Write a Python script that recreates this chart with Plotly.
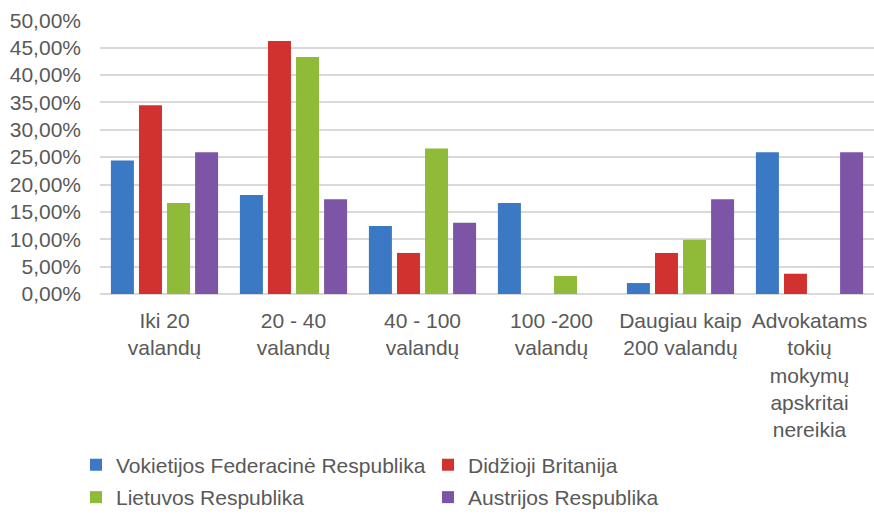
import plotly.graph_objects as go

categories = ["Iki 20<br>valandų", "20 - 40<br>valandų", "40 - 100<br>valandų",
              "100 -200<br>valandų", "Daugiau kaip<br>200 valandų",
              "Advokatams<br>tokių<br>mokymų<br>apskritai<br>nereikia"]
series_names = ["Vokietijos Federacinė Respublika", "Didžioji Britanija",
                "Lietuvos Respublika", "Austrijos Respublika"]
vokietija = [24.4, 18.1, 12.4, 16.6, 2.0, 25.9]
britanija = [34.5, 46.2, 7.5, 0.0, 7.5, 3.7]
lietuva = [16.6, 43.3, 26.6, 3.3, 9.9, 0.0]
austrija = [25.9, 17.3, 13.0, 0.0, 17.3, 25.9]
tick_vals = [0, 5, 10, 15, 20, 25, 30, 35, 40, 45, 50]
tick_text = ["0,00%", "5,00%", "10,00%", "15,00%", "20,00%", "25,00%",
             "30,00%", "35,00%", "40,00%", "45,00%", "50,00%"]

colors = ["#3C79C4", "#D2322F", "#90BB38", "#7D55A7"]
legend_ids = ["legend", "legend2", "legend3", "legend4"]
legend_pos = [(-0.031, 0.097), (0.4238, 0.097), (-0.031, 0.034), (0.4238, 0.034)]

fig = go.Figure()
for name, vals, c, lg in zip(series_names, [vokietija, britanija, lietuva, austrija],
                             colors, legend_ids):
    fig.add_trace(go.Bar(x=categories, y=vals, name=name, legend=lg,
                         marker=dict(color=c, line=dict(width=0))))

font = "Liberation Sans, Arial, sans-serif"
legend_common = dict(orientation="h", xanchor="left", yanchor="middle",
                     yref="container",
                     font=dict(family=font, size=21, color="#595959"),
                     itemwidth=30, bgcolor="rgba(0,0,0,0)")
legend_layout = {lg: dict(x=px, y=py, **legend_common)
                 for lg, (px, py) in zip(legend_ids, legend_pos)}

fig.update_layout(
    width=874, height=515,
    margin=dict(l=100, r=0, t=20, b=221),
    paper_bgcolor="white", plot_bgcolor="white",
    barmode="group", bargap=0.13, bargroupgap=0.18,
    font=dict(family=font, size=21, color="#595959"),
    showlegend=True,
    xaxis=dict(showgrid=False, showline=False, ticks="", tickangle=0,
               automargin=False, ticklabelstandoff=12,
               tickfont=dict(size=21, color="#595959")),
    yaxis=dict(range=[0, 50.05], tickvals=tick_vals, ticktext=tick_text,
               showgrid=True, gridcolor="#D9D9D9", gridwidth=2,
               zeroline=True, zerolinecolor="#D9D9D9", zerolinewidth=2,
               showline=False, ticks="", ticklabelstandoff=18, automargin=False,
               tickfont=dict(size=21, color="#595959")),
    **legend_layout,
)
fig.write_html("out.html", config={"displayModeBar": False},
               post_script="document.body.style.margin='0';document.body.style.overflow='hidden';")
